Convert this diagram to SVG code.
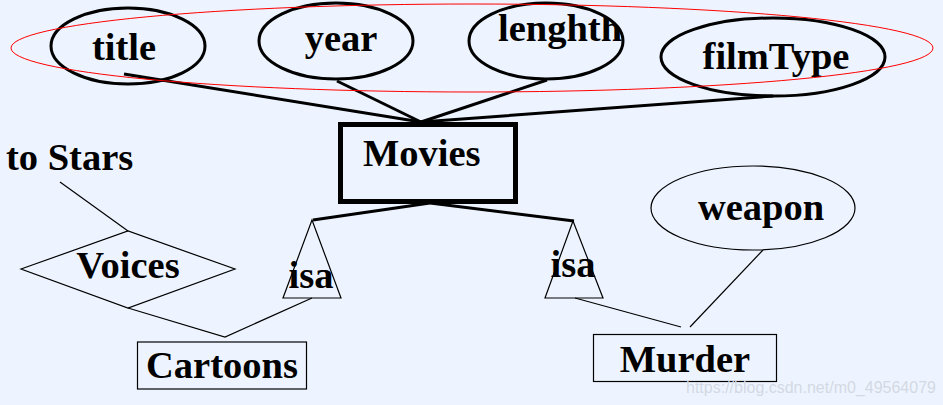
<svg xmlns="http://www.w3.org/2000/svg" width="943" height="405" viewBox="0 0 943 405">
<style>
.lbl{font-family:"Liberation Serif","Times New Roman",serif;font-weight:bold;font-size:38.5px;fill:#000}
.attr{fill:none;stroke:#000;stroke-width:3}
.thin{fill:none;stroke:#000;stroke-width:1.2}
.thick{fill:none;stroke:#000;stroke-width:3}
.wm{font-family:"Liberation Sans",Arial,sans-serif;font-size:16px;fill:#D3D9E3}
</style>
<defs>
<clipPath id="clipLen"><ellipse cx="546" cy="41" rx="77" ry="38"/></clipPath>
</defs>
<rect x="0" y="0" width="943" height="405" fill="#EEF4FF"/>
<g id="connectors">
<line class="thick" x1="124" y1="74" x2="421" y2="122"/>
<line class="thick" x1="337" y1="81" x2="421" y2="122"/>
<line class="thick" x1="547" y1="80" x2="421" y2="122"/>
<polyline class="thick" points="753,96 773,96 421,122"/>
<line class="thick" x1="430" y1="203" x2="313" y2="220"/>
<line class="thick" x1="430" y1="203" x2="574" y2="221"/>
<line class="thin" x1="60" y1="182" x2="128" y2="231"/>
<polyline class="thin" points="128,308 225,337 312,298"/>
<line class="thin" x1="575" y1="298" x2="681" y2="327"/>
<line class="thin" x1="763" y1="250" x2="690" y2="327"/>
</g>
<g id="title">
<ellipse class="attr" cx="128" cy="46" rx="77" ry="38"/>
<text class="lbl" x="124" y="60" text-anchor="middle">title</text>
</g>
<g id="year">
<ellipse class="attr" cx="336" cy="41" rx="77" ry="38"/>
<text class="lbl" x="341" y="51" text-anchor="middle">year</text>
</g>
<g id="lenghth">
<ellipse class="attr" cx="546" cy="41" rx="77" ry="38"/>
<text class="lbl" x="498" y="41" clip-path="url(#clipLen)">lenghth</text>
</g>
<g id="filmType">
<ellipse class="attr" cx="773" cy="57" rx="112" ry="39"/>
<text class="lbl" x="776" y="69" text-anchor="middle">filmType</text>
</g>
<g id="keyGroup">
<ellipse cx="472" cy="48" rx="461" ry="44" fill="none" stroke="#FF0000" stroke-width="1"/>
</g>
<g id="Movies">
<rect x="340.5" y="124.5" width="175" height="77" fill="none" stroke="#000" stroke-width="5"/>
<text class="lbl" x="363" y="166">Movies</text>
</g>
<g id="toStars">
<text class="lbl" x="6" y="170">to Stars</text>
</g>
<g id="Voices">
<polygon class="thin" points="21,269 128,231 235,269 128,308"/>
<text class="lbl" x="128" y="278" text-anchor="middle">Voices</text>
</g>
<g id="isaLeft">
<polygon class="thin" points="312,220 283,298 341,298"/>
<text class="lbl" x="311" y="288" text-anchor="middle">isa</text>
</g>
<g id="isaRight">
<polygon class="thin" points="573,221 545,298 603,298"/>
<text class="lbl" x="573" y="277" text-anchor="middle">isa</text>
</g>
<g id="Cartoons">
<rect class="thin" x="137.5" y="342" width="169" height="47"/>
<text class="lbl" x="222" y="378" text-anchor="middle">Cartoons</text>
</g>
<g id="weapon">
<ellipse class="thin" cx="753" cy="208" rx="102" ry="42"/>
<text class="lbl" x="761" y="220" text-anchor="middle">weapon</text>
</g>
<g id="Murder">
<rect class="thin" x="593.5" y="334.5" width="183" height="47"/>
<text class="lbl" x="685" y="372" text-anchor="middle">Murder</text>
</g>
<text class="wm" x="686" y="393">https://blog.csdn.net/m0_49564079</text>
</svg>
